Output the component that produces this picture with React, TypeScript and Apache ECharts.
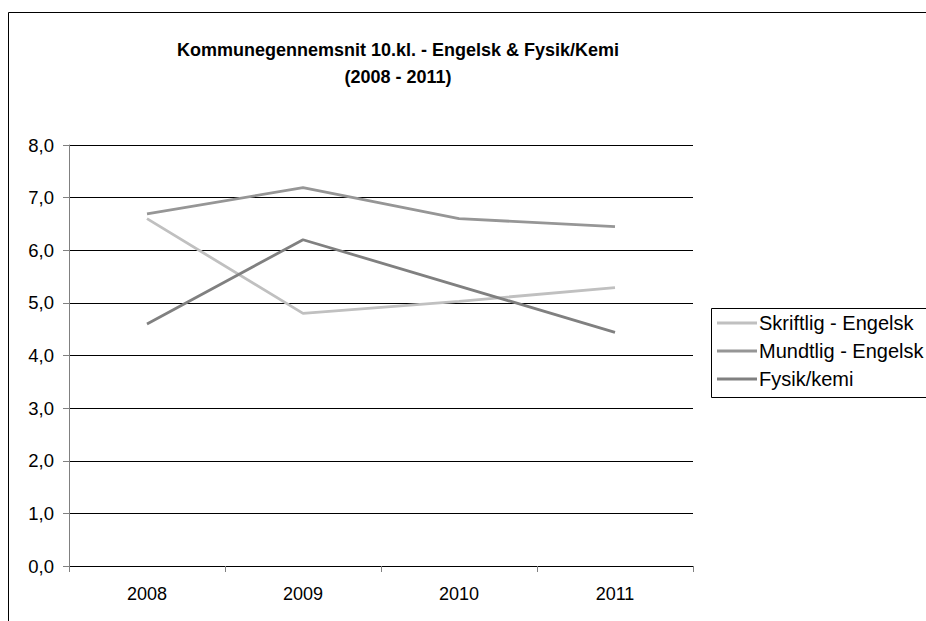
import React, { useEffect, useRef } from "react";
import * as echarts from "echarts";

const categories = ["2008", "2009", "2010", "2011"];
const skriftligEngelsk = [6.6, 4.8, 5.03, 5.29];
const mundtligEngelsk = [6.69, 7.19, 6.6, 6.45];
const fysikKemi = [4.6, 6.2, 5.32, 4.44];
const seriesNames = ["Skriftlig - Engelsk", "Mundtlig - Engelsk", "Fysik/kemi"];
const titleLines = ["Kommunegennemsnit 10.kl. - Engelsk & Fysik/Kemi", "(2008 - 2011)"];

const FONT = "'Liberation Sans', Arial, sans-serif";

export default function App() {
  const ref = useRef<HTMLDivElement>(null);
  useEffect(() => {
    if (!ref.current) return;
    const chart = echarts.init(ref.current, null, { renderer: "svg" });
    const mk = (name: string, data: number[], color: string) => ({
      name,
      type: "line",
      data,
      symbol: "none",
      lineStyle: { color, width: 2.8 },
      itemStyle: { color },
    });
    const titleStyle = {
      fontFamily: FONT,
      fontSize: 18,
      fontWeight: "bold",
      fill: "#000",
      align: "center",
      verticalAlign: "middle",
    };
    chart.setOption({
      animation: false,
      backgroundColor: "#fff",
      textStyle: { fontFamily: FONT },
      graphic: [
        {
          type: "rect",
          shape: { x: 8.5, y: 12.5, width: 1000, height: 700 },
          style: { fill: "none", stroke: "#000", lineWidth: 1 },
          z: -10,
        },
        { type: "text", x: 398, y: 50, style: { ...titleStyle, text: titleLines[0] } },
        { type: "text", x: 398, y: 77, style: { ...titleStyle, text: titleLines[1] } },
        {
          type: "rect",
          shape: { x: 711.5, y: 308.5, width: 230, height: 89 },
          style: { fill: "#fff", stroke: "#000", lineWidth: 1 },
          z: 0,
        },
      ],
      legend: {
        orient: "vertical",
        left: 717,
        top: 313,
        padding: 0,
        itemWidth: 40,
        itemHeight: 3,
        itemGap: 8,
        icon: "rect",
        data: seriesNames,
        textStyle: { fontFamily: FONT, fontSize: 20, color: "#000", lineHeight: 20, padding: [0, 0, 0, -3] },
        z: 5,
      },
      grid: { left: 69, right: 233, top: 145, bottom: 55 },
      xAxis: {
        type: "category",
        data: categories,
        boundaryGap: true,
        axisLine: { lineStyle: { color: "#000", width: 1 } },
        axisTick: { show: true, length: 6, lineStyle: { color: "#808080" } },
        axisLabel: { color: "#000", fontSize: 18, fontFamily: FONT, margin: 19 },
      },
      yAxis: {
        type: "value",
        min: 0,
        max: 8,
        interval: 1,
        axisLine: { show: true, lineStyle: { color: "#808080", width: 1 } },
        axisTick: { show: true, length: 6, lineStyle: { color: "#808080" } },
        splitLine: { show: true, lineStyle: { color: "#000", width: 1 } },
        axisLabel: {
          color: "#000",
          fontSize: 18.5,
          fontFamily: FONT,
          margin: 15,
          formatter: (v: number) => v.toFixed(1).replace(".", ","),
        },
      },
      series: [
        mk(seriesNames[0], skriftligEngelsk, "#c0c0c0"),
        mk(seriesNames[1], mundtligEngelsk, "#969696"),
        mk(seriesNames[2], fysikKemi, "#808080"),
      ],
    });
    return () => chart.dispose();
  }, []);
  return (
    <div
      ref={ref}
      style={{ position: "fixed", left: 0, top: 0, width: 926, height: 621 }}
    />
  );
}
